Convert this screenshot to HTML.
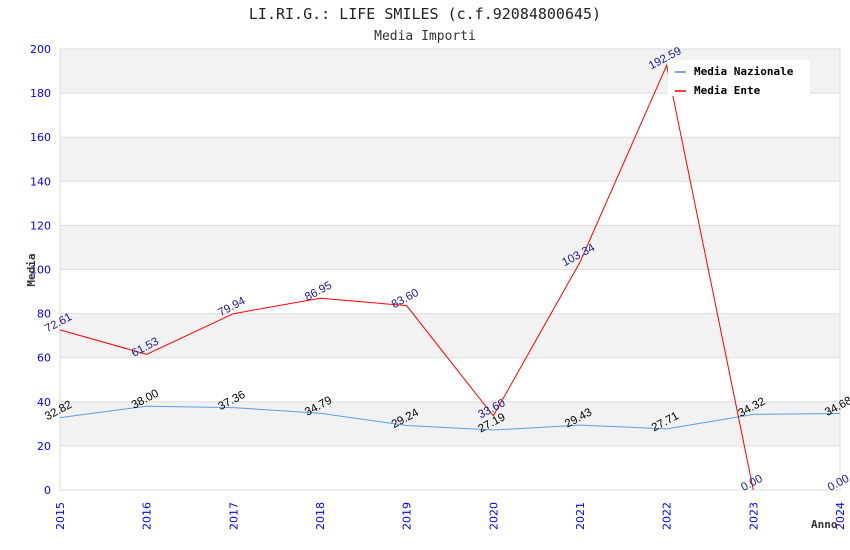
<!DOCTYPE html>
<html><head><meta charset="utf-8"><style>
body{margin:0;background:#fff}
svg{display:block}
</style></head><body>
<svg id="chart" width="850" height="550" xmlns="http://www.w3.org/2000/svg">
<text x="425" y="19" text-anchor="middle" font-family="DejaVu Sans Mono, Liberation Mono, monospace" font-size="15" fill="#222">LI.RI.G.: LIFE SMILES (c.f.92084800645)</text>
<text x="425" y="40" text-anchor="middle" font-family="DejaVu Sans Mono, Liberation Mono, monospace" font-size="13" fill="#333">Media Importi</text>
<g id="bands"></g><g id="grid"></g><g id="axes"></g><g id="series"></g><g id="labels"></g>
<text transform="translate(35,270) rotate(-90)" text-anchor="middle" font-family="DejaVu Sans Mono, monospace" font-size="11" font-weight="bold" fill="#333">Media</text>
<text x="811" y="528" font-family="DejaVu Sans Mono, monospace" font-size="11" font-weight="bold" fill="#333">Anno</text>
<g>
<rect x="668" y="60" width="142" height="36" fill="#fff"/>
<line x1="675" y1="72" x2="686" y2="72" stroke="#4a90e2" stroke-width="1.5"/>
<text x="694" y="75" font-family="DejaVu Sans Mono, monospace" font-size="11" font-weight="bold" fill="#000">Media Nazionale</text>
<line x1="675" y1="91" x2="686" y2="91" stroke="#f00" stroke-width="1.5"/>
<text x="694" y="94" font-family="DejaVu Sans Mono, monospace" font-size="11" font-weight="bold" fill="#000">Media Ente</text>
</g>
</svg>
<script>
const years = [2015,2016,2017,2018,2019,2020,2021,2022,2023,2024];
const nazionale = [32.82,38.00,37.36,34.79,29.24,27.19,29.43,27.71,34.32,34.68];
const ente = [72.61,61.53,79.94,86.95,83.60,33.60,103.34,192.59,0.00,0.00];
const yTicks = [0,20,40,60,80,100,120,140,160,180,200];
const NS="http://www.w3.org/2000/svg";
const X0=60,X1=840,Y0=490,Y1=49,YMAX=200;
const xs=i=>X0+i*(X1-X0)/(years.length-1);
const ys=v=>Y0-v*(Y0-Y1)/YMAX;
function mk(tag,attrs,parent){const e=document.createElementNS(NS,tag);for(const k in attrs)e.setAttribute(k,attrs[k]);document.getElementById(parent).appendChild(e);return e;}
for(let i=0;i<yTicks.length-1;i++){
  if(i%2===1){const r=mk('rect',{x:X0,y:ys(yTicks[i+1]),width:X1-X0,height:ys(yTicks[i])-ys(yTicks[i+1]),fill:'#f2f2f2'},'bands');
  
  }
}
yTicks.forEach(t=>{
  const l=mk('line',{x1:X0,x2:X1,y1:ys(t),y2:ys(t),stroke:'#ddd','stroke-width':1},'grid');
  
  
  const tx=mk('text',{x:51,y:ys(t)+4,'text-anchor':'end','font-family':'DejaVu Sans, sans-serif','font-size':11,fill:'#00f'},'axes');
  
  
  tx.textContent=t;
});
mk('line',{x1:X0,x2:X0,y1:Y1,y2:Y0,stroke:'#ddd'},'grid');
mk('line',{x1:X1,x2:X1,y1:Y1,y2:Y0,stroke:'#ddd'},'grid');
years.forEach((yr,i)=>{
  const tx=mk('text',{transform:`translate(${xs(i)+4},${Y0+40}) rotate(-90)`,'font-family':'DejaVu Sans, sans-serif','font-size':11,fill:'#00f'},'axes');
  
  
  tx.textContent=yr;
});
function series(vals,color,lblColor,name,n){
  const pts=vals.slice(0,n).map((v,i)=>xs(i)+','+ys(v)).join(' ');
  const p=mk('polyline',{points:pts,fill:'none',stroke:color,'stroke-width':1},'series');
  
  
  vals.forEach((v,i)=>{
    const tx=mk('text',{transform:`translate(${xs(i)},${ys(v)-4}) rotate(-28)`,'text-anchor':'middle','font-family':'Liberation Sans, sans-serif','font-size':11.5,fill:lblColor},'labels');
    
    
    tx.textContent=v.toFixed(2);
  });
}
series(nazionale,'#5aa0e8','#000','nazionale',years.length);
series(ente,'#f00','#1a1a8c','ente',years.length-1);
</script>
</body></html>
